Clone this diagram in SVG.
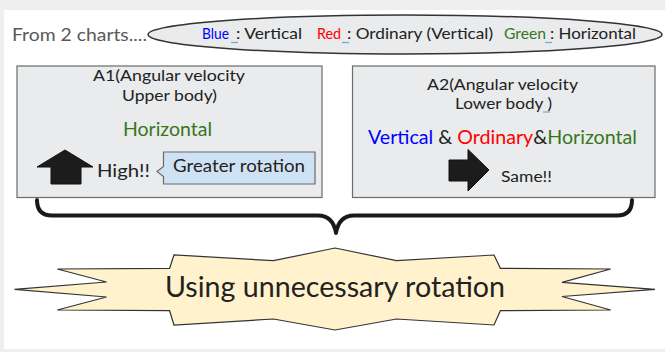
<svg xmlns="http://www.w3.org/2000/svg" width="665" height="352" viewBox="0 0 665 352">
<defs>
<style>
text{font-family:Lato,"Open Sans","Liberation Sans",sans-serif;fill:#222}
.box{fill:#e9ebec;stroke:#6b6b6b;stroke-width:1.2}
.blue{fill:#0000ff}.red{fill:#ff0000}.green{fill:#38761d}
.ul{stroke:#6fa8dc;stroke-width:1.2}
.arrow{fill:#1c1c1c;stroke:#111;stroke-width:1}
</style>
</defs>
<rect x="0" y="0" width="665" height="352" fill="#efefef"/>
<rect x="4" y="10" width="661" height="339" fill="#ffffff"/>
<g id="header">
<text x="12" y="41" font-size="16.5" textLength="135" lengthAdjust="spacingAndGlyphs" style="fill:#595959">From 2 charts....</text>
</g>
<g id="legend">
<ellipse cx="405" cy="34.5" rx="257" ry="19.5" fill="#e9ebec" stroke="#333" stroke-width="1.5"/>
<g font-size="15">
<text x="202" y="39" class="blue" textLength="27" lengthAdjust="spacingAndGlyphs">Blue</text>
<text x="236" y="39" textLength="66" lengthAdjust="spacingAndGlyphs">: Vertical</text>
<text x="317" y="39" class="red" textLength="24" lengthAdjust="spacingAndGlyphs">Red</text>
<text x="347" y="39" textLength="146" lengthAdjust="spacingAndGlyphs">: Ordinary (Vertical)</text>
<text x="504" y="39" class="green" textLength="42" lengthAdjust="spacingAndGlyphs">Green</text>
<text x="550" y="39" textLength="86" lengthAdjust="spacingAndGlyphs">: Horizontal</text>
</g>
<line x1="231" y1="42.5" x2="238" y2="42.5" class="ul"/>
<line x1="342" y1="42.5" x2="349" y2="42.5" class="ul"/>
<line x1="545" y1="42.5" x2="552" y2="42.5" class="ul"/>
</g>
<g id="a1">
<rect x="17" y="66" width="305" height="131.5" class="box"/>
<text x="93" y="81" font-size="16" textLength="152" lengthAdjust="spacingAndGlyphs">A1(Angular velocity</text>
<text x="122" y="100.5" font-size="16" textLength="95" lengthAdjust="spacingAndGlyphs">Upper body)</text>
<text x="123" y="136" font-size="18.5" textLength="89" lengthAdjust="spacingAndGlyphs" class="green">Horizontal</text>
<polygon class="arrow" points="65,150 93,167 81,167 81,184 51,184 51,167 37,167"/>
<text x="97" y="177" font-size="17.5" textLength="53" lengthAdjust="spacingAndGlyphs">High!!</text>
</g>
<g id="callout">
<path d="M163.5,152 H315 V184 H163.5 V176.5 L157,171.5 L163.5,166.5 Z" fill="#cfe2f3" stroke="#6b6b6b" stroke-width="1.2"/>
<text x="173" y="172" font-size="17" textLength="132" lengthAdjust="spacingAndGlyphs">Greater rotation</text>
</g>
<g id="a2">
<rect x="352.5" y="66" width="302.5" height="131.5" class="box"/>
<text x="427" y="90" font-size="16" textLength="151" lengthAdjust="spacingAndGlyphs">A2(Angular velocity</text>
<text x="455" y="108.5" font-size="16" textLength="97" lengthAdjust="spacingAndGlyphs">Lower body )</text>
<line x1="543" y1="112" x2="550" y2="112" class="ul"/>
<text x="368" y="143.5" font-size="19.5" textLength="269" lengthAdjust="spacingAndGlyphs"><tspan class="blue">Vertical</tspan> &amp; <tspan class="red">Ordinary</tspan>&amp;<tspan class="green">Horizontal</tspan></text>
<polygon class="arrow" points="489,170 468,149.5 468,160 449,160 449,181 468,181 468,191"/>
<text x="501" y="182" font-size="15.5" textLength="51" lengthAdjust="spacingAndGlyphs">Same!!</text>
</g>
<g id="connectors">
<path d="M37,200 Q37,215.5 52,215.5 L318,215.5 Q333,215.5 336,233 Q339,215.5 354,215.5 L617,215.5 Q632,215.5 632,200" fill="none" stroke="#1a1a1a" stroke-width="4" stroke-linecap="round" stroke-linejoin="round"/>
</g>
<g id="conclusion">
<polygon points="335,248 396.5,260.7 494,255 500.4,268.3 610.7,269 562,282.3 655,289.3 562,296.5 610.7,310 500.4,310.7 494,325 396.5,319 335,330 273.5,319 174,325 169.6,310.7 57.3,310 106.5,297 14.5,289.3 106.5,282 57.3,269 169.6,268.3 174,255 273.5,260.7" fill="#fff2cc" stroke="#333" stroke-width="1.2"/>
<text x="165" y="297" font-size="28" textLength="340" lengthAdjust="spacingAndGlyphs">Using unnecessary rotation</text>
</g>
</svg>
